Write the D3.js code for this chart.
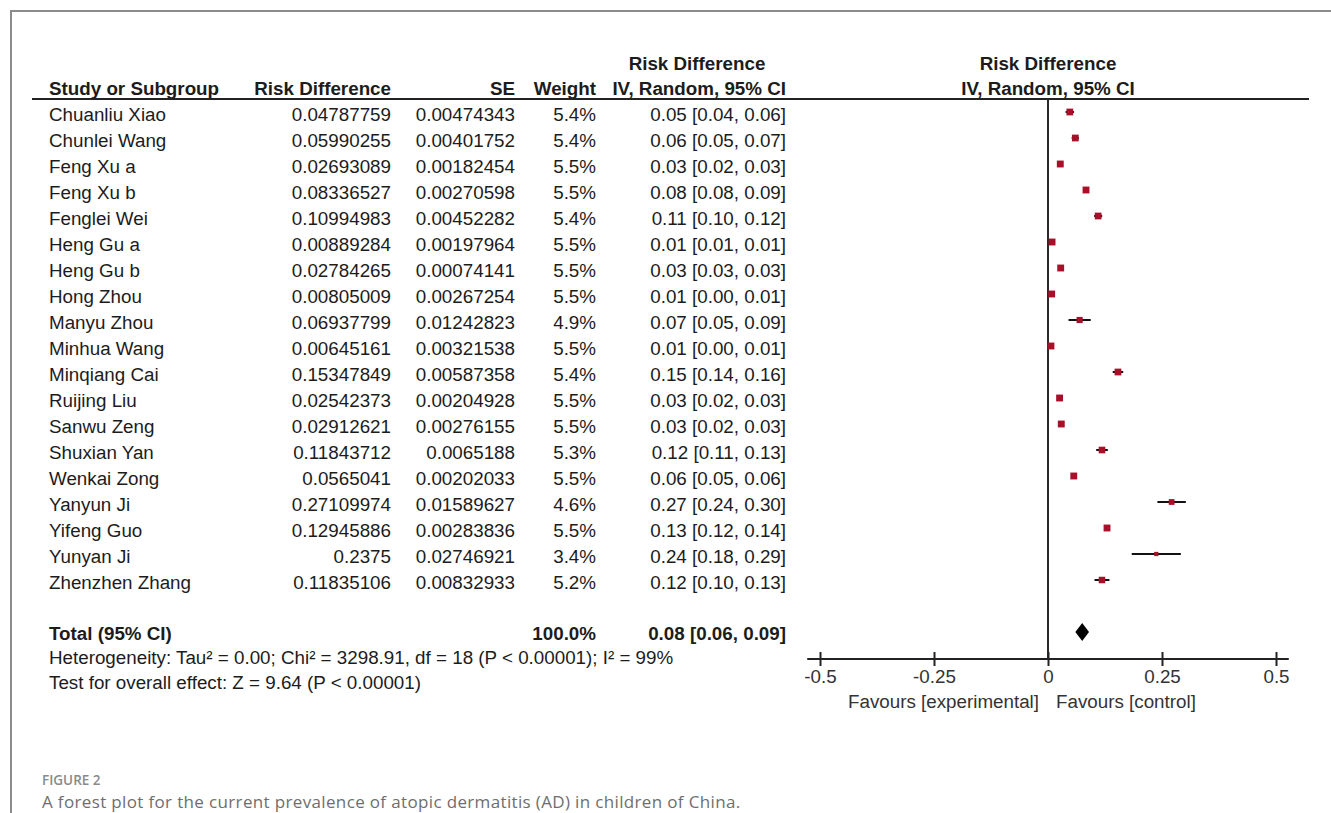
<!DOCTYPE html>
<html lang="en">
<head>
<meta charset="utf-8" />
<title>Forest plot</title>
<script src="https://d3js.org/d3.v7.min.js"></script>
<style>
  body { margin: 0; background: #fff; }
  svg text { font-family: "Liberation Sans", Arial, sans-serif; fill: #1c1c1c; }
  .cap text { font-family: "Open Sans", sans-serif; }
</style>
</head>
<body>
<script>
    // data
    const studies = ["Chuanliu Xiao", "Chunlei Wang", "Feng Xu a", "Feng Xu b", "Fenglei Wei", "Heng Gu a", "Heng Gu b",
        "Hong Zhou", "Manyu Zhou", "Minhua Wang", "Minqiang Cai", "Ruijing Liu", "Sanwu Zeng", "Shuxian Yan",
        "Wenkai Zong", "Yanyun Ji", "Yifeng Guo", "Yunyan Ji", "Zhenzhen Zhang"];
    const rd = [0.04787759, 0.05990255, 0.02693089, 0.08336527, 0.10994983, 0.00889284, 0.02784265,
        0.00805009, 0.06937799, 0.00645161, 0.15347849, 0.02542373, 0.02912621, 0.11843712,
        0.0565041, 0.27109974, 0.12945886, 0.2375, 0.11835106];
    const se = [0.00474343, 0.00401752, 0.00182454, 0.00270598, 0.00452282, 0.00197964, 0.00074141,
        0.00267254, 0.01242823, 0.00321538, 0.00587358, 0.00204928, 0.00276155, 0.0065188,
        0.00202033, 0.01589627, 0.00283836, 0.02746921, 0.00832933];
    const weights = [5.4, 5.4, 5.5, 5.5, 5.4, 5.5, 5.5, 5.5, 4.9, 5.5, 5.4, 5.5, 5.5, 5.3, 5.5, 4.6, 5.5, 3.4, 5.2];
    const ciText = ["0.05 [0.04, 0.06]", "0.06 [0.05, 0.07]", "0.03 [0.02, 0.03]", "0.08 [0.08, 0.09]",
        "0.11 [0.10, 0.12]", "0.01 [0.01, 0.01]", "0.03 [0.03, 0.03]", "0.01 [0.00, 0.01]",
        "0.07 [0.05, 0.09]", "0.01 [0.00, 0.01]", "0.15 [0.14, 0.16]", "0.03 [0.02, 0.03]",
        "0.03 [0.02, 0.03]", "0.12 [0.11, 0.13]", "0.06 [0.05, 0.06]", "0.27 [0.24, 0.30]",
        "0.13 [0.12, 0.14]", "0.24 [0.18, 0.29]", "0.12 [0.10, 0.13]"];
    const total = { est: 0.075, lo: 0.06, hi: 0.09, weight: "100.0%", text: "0.08 [0.06, 0.09]" };
    const xTicks = [-0.5, -0.25, 0, 0.25, 0.5];

    const width = 1331, height = 813;
    const fs = 18.8;

    const svg = d3.select("body").append("svg")
        .attr("width", width)
        .attr("height", height);

    // frame (top + left edge)
    svg.append("path")
        .attr("d", "M11,813 V11 H1331")
        .attr("fill", "none")
        .attr("stroke", "#8c8c8c")
        .attr("stroke-width", 2);

    const xScale = d3.scaleLinear().domain([-0.5, 0.5]).range([820, 1276]);
    const yScale = d3.scaleLinear().domain([0, studies.length - 1]).range([112, 580]);
    const rowY = i => yScale(i) + 9;

    // column x positions (right edges)
    const colRD = 391, colSE = 515, colW = 596, colCI = 786;

    // column headers
    const hdr = svg.append("g").attr("font-weight", "bold").attr("font-size", fs);
    hdr.append("text").attr("x", 49).attr("y", 95).text("Study or Subgroup");
    hdr.append("text").attr("x", colRD).attr("y", 95).attr("text-anchor", "end").text("Risk Difference");
    hdr.append("text").attr("x", colSE).attr("y", 95).attr("text-anchor", "end").text("SE");
    hdr.append("text").attr("x", colW).attr("y", 95).attr("text-anchor", "end").text("Weight");
    hdr.append("text").attr("x", 697).attr("y", 70).attr("text-anchor", "middle").text("Risk Difference");
    hdr.append("text").attr("x", colCI).attr("y", 95).attr("text-anchor", "end").text("IV, Random, 95% CI");
    hdr.append("text").attr("x", xScale(0)).attr("y", 70).attr("text-anchor", "middle").text("Risk Difference");
    hdr.append("text").attr("x", xScale(0)).attr("y", 95).attr("text-anchor", "middle").text("IV, Random, 95% CI");

    svg.append("line")
        .attr("x1", 32).attr("x2", 1309)
        .attr("y1", 99).attr("y2", 99)
        .attr("stroke", "#222").attr("stroke-width", 2);

    // table rows
    const rows = svg.append("g").attr("font-size", fs)
        .selectAll("g")
        .data(studies)
        .join("g");
    rows.append("text").attr("x", 49).attr("y", (d, i) => rowY(i)).text(d => d);
    rows.append("text").attr("x", colRD).attr("y", (d, i) => rowY(i)).attr("text-anchor", "end").text((d, i) => rd[i]);
    rows.append("text").attr("x", colSE).attr("y", (d, i) => rowY(i)).attr("text-anchor", "end").text((d, i) => se[i]);
    rows.append("text").attr("x", colW).attr("y", (d, i) => rowY(i)).attr("text-anchor", "end").text((d, i) => weights[i].toFixed(1) + "%");
    rows.append("text").attr("x", colCI).attr("y", (d, i) => rowY(i)).attr("text-anchor", "end").text((d, i) => ciText[i]);

    // total + footnotes
    const totalY = 632;
    const tot = svg.append("g").attr("font-size", fs).attr("font-weight", "bold");
    tot.append("text").attr("x", 49).attr("y", totalY + 8).text("Total (95% CI)");
    tot.append("text").attr("x", colW).attr("y", totalY + 8).attr("text-anchor", "end").text(total.weight);
    tot.append("text").attr("x", colCI).attr("y", totalY + 8).attr("text-anchor", "end").text(total.text);
    svg.append("text").attr("font-size", fs).attr("x", 49).attr("y", 664)
        .text("Heterogeneity: Tau\u00b2 = 0.00; Chi\u00b2 = 3298.91, df = 18 (P < 0.00001); I\u00b2 = 99%");
    svg.append("text").attr("font-size", fs).attr("x", 49).attr("y", 689)
        .text("Test for overall effect: Z = 9.64 (P < 0.00001)");

    // zero line
    const axisY = 659;
    svg.append("line")
        .attr("x1", xScale(0)).attr("x2", xScale(0))
        .attr("y1", 99).attr("y2", axisY)
        .attr("stroke", "#2a2a2a").attr("stroke-width", 2);

    // CI whiskers and boxes
    const marks = svg.append("g").selectAll("g").data(studies).join("g");
    marks.append("line")
        .attr("x1", (d, i) => xScale(rd[i] - 1.96 * se[i]))
        .attr("x2", (d, i) => xScale(rd[i] + 1.96 * se[i]))
        .attr("y1", (d, i) => yScale(i)).attr("y2", (d, i) => yScale(i))
        .attr("stroke", "#111").attr("stroke-width", 2);
    const box = w => w * 1.25;
    marks.append("rect")
        .attr("x", (d, i) => xScale(rd[i]) - box(weights[i]) / 2)
        .attr("y", (d, i) => yScale(i) - box(weights[i]) / 2)
        .attr("width", (d, i) => box(weights[i]))
        .attr("height", (d, i) => box(weights[i]))
        .attr("fill", "#a8102a");

    // pooled diamond
    svg.append("path")
        .attr("d", "M" + xScale(total.lo) + "," + totalY + " L" + xScale(total.est) + "," + (totalY - 9) +
            " L" + xScale(total.hi) + "," + totalY + " L" + xScale(total.est) + "," + (totalY + 9) + "Z")
        .attr("fill", "#000");

    // x axis
    const xAxis = d3.axisBottom(xScale).tickValues(xTicks).tickSize(6).tickPadding(5).tickFormat(d => String(d));
    const ax = svg.append("g").attr("transform", "translate(0," + axisY + ")").call(xAxis);
    ax.select(".domain").remove();
    ax.append("line")
        .attr("x1", xScale(-0.528)).attr("x2", xScale(0.528))
        .attr("stroke", "#222").attr("stroke-width", 2);
    ax.selectAll(".tick line").attr("y1", -7).attr("y2", 7).attr("stroke", "#222").attr("stroke-width", 2);
    ax.selectAll(".tick text").attr("font-size", fs).attr("font-family", "Liberation Sans, Arial, sans-serif").style("fill", "#333");

    svg.append("text").attr("font-size", fs).style("fill", "#333")
        .attr("x", xScale(0) - 9).attr("y", 708).attr("text-anchor", "end").text("Favours [experimental]");
    svg.append("text").attr("font-size", fs).style("fill", "#333")
        .attr("x", xScale(0) + 8).attr("y", 708).text("Favours [control]");

    // caption
    const cap = svg.append("g").attr("class", "cap");
    cap.append("text").attr("x", 42).attr("y", 785).attr("font-size", 13.5).attr("font-weight", 600)
        .style("fill", "#8a8a8a").text("FIGURE 2");
    cap.append("text").attr("x", 42).attr("y", 808).attr("font-size", 17).attr("letter-spacing", 0.35)
        .style("fill", "#6e6e6e").text("A forest plot for the current prevalence of atopic dermatitis (AD) in children of China.");
</script>
</body>
</html>
